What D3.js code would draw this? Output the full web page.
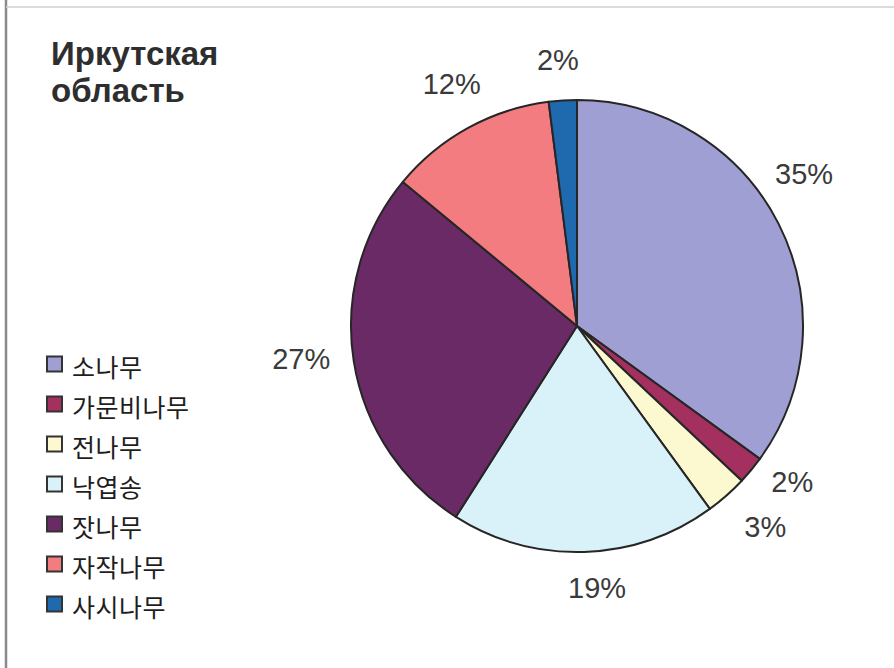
<!DOCTYPE html>
<html>
<head>
<meta charset="utf-8">
<script src="https://cdn.jsdelivr.net/npm/d3@7"></script>
<style>
  body { margin: 0; background: #fff; }
  svg { display: block; }
</style>
</head>
<body>
<div id="chart"></div>
<script>
// Data
const TITLE = ['Иркутская', 'область'];
const SPECIES = ['소나무', '가문비나무', '전나무', '낙엽송', '잣나무', '자작나무', '사시나무'];
const SHARES = [35, 2, 3, 19, 27, 12, 2];
const COLORS = ['#a09fd3', '#a3305f', '#fcf8cf', '#d9f1f9', '#6a2a66', '#f27c80', '#1f6aae'];

// label nudges (Excel places outside labels a bit irregularly)
const LABEL_NUDGE = [[-1, -36], [18, -8], [19, 9], [12, 6], [-23, -8], [-2, -18], [-3, -11]];

const W = 894, H = 668;
const cx = 577, cy = 326, R = 226;

const svg = d3.select('#chart').append('svg')
  .attr('width', W).attr('height', H);

// frame lines
svg.append('line').attr('x1', 6).attr('x2', 6).attr('y1', 0).attr('y2', H)
  .attr('stroke', '#8a8a8a').attr('stroke-width', 2.5);
svg.append('line').attr('x1', 6).attr('x2', W).attr('y1', 7).attr('y2', 7)
  .attr('stroke', '#cfcfcf').attr('stroke-width', 1.5);

// Title
svg.append('text')
  .attr('font-family', 'Liberation Sans, Arial, sans-serif')
  .attr('font-weight', 'bold').attr('font-size', 33).attr('fill', '#2e2e2e')
  .selectAll('tspan').data(TITLE).join('tspan')
  .attr('x', 51).attr('y', (d, i) => 65 + i * 37)
  .text(d => d);

// Pie
const data = SPECIES.map((name, i) => ({ name, value: SHARES[i], color: COLORS[i], nudge: LABEL_NUDGE[i] }));
const pie = d3.pie().value(d => d.value).sort(null);
const arc = d3.arc().innerRadius(0).outerRadius(R);
const labelArc = d3.arc().innerRadius(R + 30).outerRadius(R + 30);

const g = svg.append('g').attr('transform', `translate(${cx},${cy})`);

g.selectAll('path')
  .data(pie(data))
  .join('path')
  .attr('d', arc)
  .attr('fill', d => d.data.color)
  .attr('stroke', '#262626')
  .attr('stroke-width', 2)
  .attr('stroke-linejoin', 'round');

g.selectAll('text.pct')
  .data(pie(data))
  .join('text')
  .attr('class', 'pct')
  .attr('transform', d => {
    const [x, y] = labelArc.centroid(d);
    return `translate(${x + d.data.nudge[0]},${y + d.data.nudge[1]})`;
  })
  .attr('text-anchor', 'middle')
  .attr('dy', '0.36em')
  .attr('font-family', 'Liberation Sans, Arial, sans-serif')
  .attr('font-size', 29).attr('fill', '#3a3a3a')
  .text(d => d.data.value + '%');

// Legend
const ly = d3.scalePoint().domain(SPECIES).range([364, 604]);
const leg = svg.append('g').selectAll('g')
  .data(data)
  .join('g')
  .attr('transform', d => `translate(47,${ly(d.name)})`);

leg.append('rect')
  .attr('x', 0).attr('y', -7.5).attr('width', 15).attr('height', 15)
  .attr('fill', d => d.color)
  .attr('stroke', '#333').attr('stroke-width', 2);

leg.append('text')
  .attr('x', 25).attr('y', 4).attr('dy', '0.35em')
  .attr('font-family', 'Noto Sans CJK KR, sans-serif')
  .attr('font-size', 25).attr('letter-spacing', 0.5).attr('fill', '#1e1e1e')
  .text(d => d.name);
</script>
</body>
</html>
